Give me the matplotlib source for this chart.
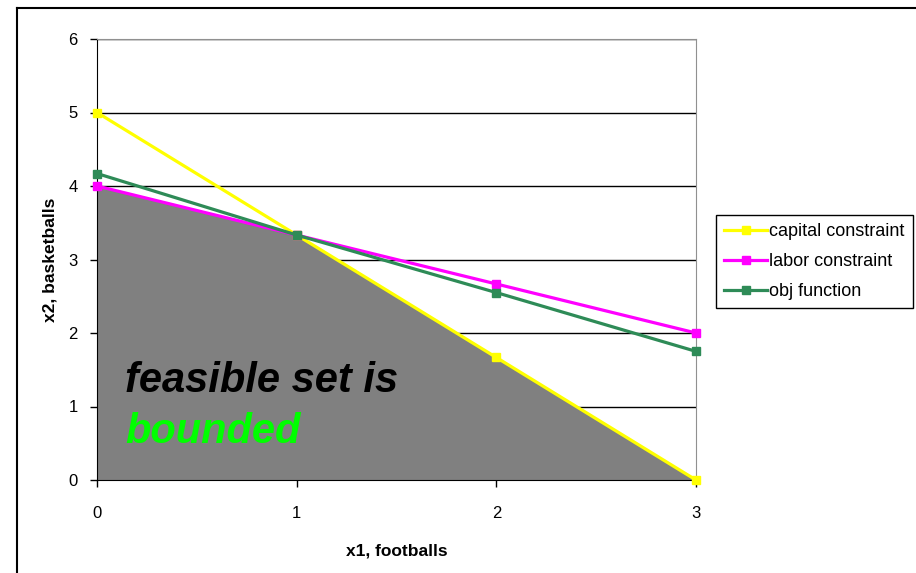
import matplotlib
matplotlib.use("Agg")
import matplotlib.pyplot as plt
import numpy as np

plt.rcParams["font.family"] = ["Liberation Sans", "DejaVu Sans"]

# chart data
x1 = [0, 1, 2, 3]
capital = [5.0, 3.333, 1.667, 0.0]
labor = [4.0, 3.333, 2.667, 2.0]
obj = [4.17, 3.333, 2.55, 1.75]
series_names = ["capital constraint", "labor constraint", "obj function"]
series_colors = ["#ffff00", "#ff00ff", "#2e8b57"]

W, H = 916, 573
fig = plt.figure(figsize=(W / 100, H / 100), dpi=100)

# outer chart frame (only left/top visible in the reference)
fig.add_artist(plt.Line2D([17 / W, 17 / W], [0, 1 - 8 / H], color="black", lw=1.5))
fig.add_artist(plt.Line2D([17 / W, 1], [1 - 8 / H, 1 - 8 / H], color="black", lw=1.5))

ax = fig.add_axes([97 / W, (H - 480) / H, (696 - 97) / W, (480 - 39) / H])

# feasible region
feasible = np.minimum(capital, labor)
ax.fill_between(x1, 0, feasible, color="#808080", lw=0, zorder=1)

for vals, name, col in zip([capital, labor, obj], series_names, series_colors):
    ax.plot(x1, vals, color=col, lw=2.3, marker="s", ms=6, mec=col,
            label=name, zorder=3, clip_on=False)

ax.set_xlim(0, 3)
ax.set_ylim(0, 6)
ax.set_xticks(x1)
ax.set_yticks(range(0, 7))
ax.yaxis.grid(True, color="black", lw=1)
ax.set_axisbelow(True)
for s in ["top", "right"]:
    ax.spines[s].set_color("#909090")
for s in ["left", "bottom"]:
    ax.spines[s].set_color("black")
ax.tick_params(direction="out", length=5, width=1, labelsize=12)
ax.tick_params(axis="x", pad=14)
ax.tick_params(axis="y", pad=9)

ax.set_xlabel("x1, footballs", fontsize=12.5, fontweight="bold", labelpad=16)
ax.set_ylabel("x2, basketballs", fontsize=12.5, fontweight="bold", labelpad=8)

ax.text(0.14, 1.2, "feasible set is", fontsize=30, fontweight="bold",
        style="italic", color="black", va="baseline", zorder=4)
ax.text(0.14, 0.51, "bounded", fontsize=30, fontweight="bold",
        style="italic", color="#00ff00", va="baseline", zorder=4)

leg = ax.legend(loc="upper left", bbox_to_anchor=(716 / W, 1 - 215 / H),
                bbox_transform=fig.transFigure, fontsize=13, frameon=True,
                fancybox=False, edgecolor="black", framealpha=1,
                handlelength=2.4, handletextpad=0.1, borderpad=0.45,
                labelspacing=0.72, borderaxespad=0)
leg.get_frame().set_linewidth(1)

fig.savefig("out.png", dpi=100, facecolor="white")
